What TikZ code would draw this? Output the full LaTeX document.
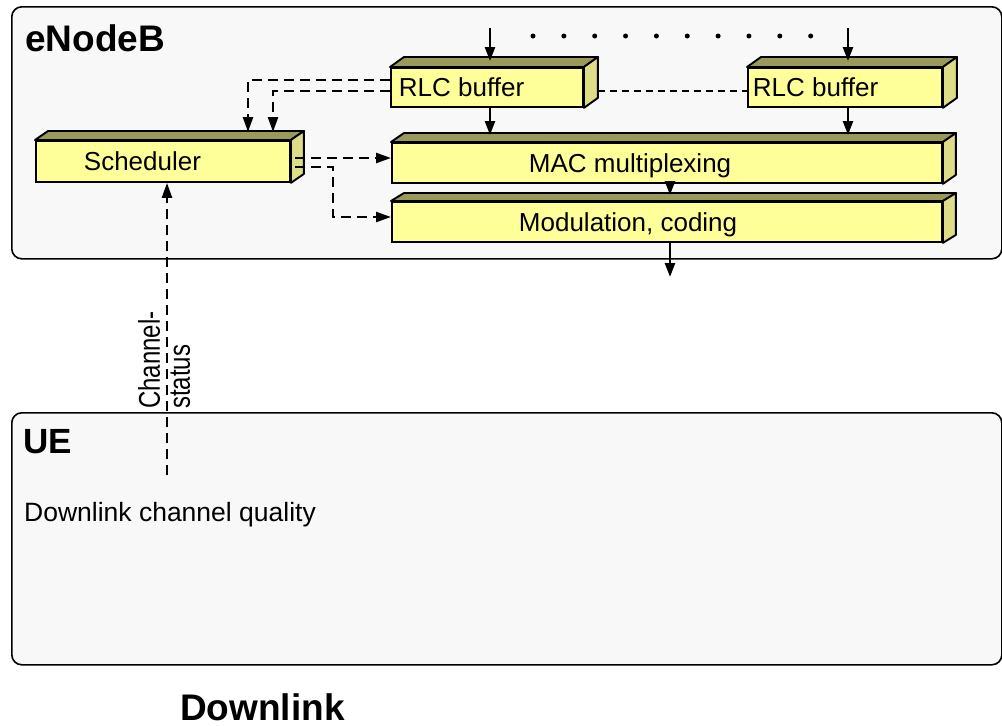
\documentclass[tikz,border=0pt]{standalone}
\usepackage{fontspec}
\setmainfont{Liberation Sans}
\usetikzlibrary{arrows.meta,calc}
\definecolor{frontc}{HTML}{FFFF99}
\definecolor{topc}{HTML}{99995A}
\definecolor{sidec}{HTML}{DDDD88}
\definecolor{panelc}{HTML}{F8F8F8}
\newcommand\normfont{\fontsize{26}{31}\selectfont}
\newcommand\dcqfont{\fontsize{26.5}{31}\selectfont}
\newcommand\boldbig{\fontsize{37}{42}\selectfont\bfseries}
\newcommand\boldue{\fontsize{35}{40}\selectfont\bfseries}
\newcommand\chfont{\fontsize{24}{30}\selectfont}
\tikzset{
 panelbox/.style={draw=black, line width=1.6pt, fill=panelc, rounded corners=10pt, anchor=north west, inner sep=0pt},
 facebox/.style={draw=black, line width=1.9pt, fill=frontc, inner sep=0pt, anchor=north west, text height=18.6pt, text depth=0pt, font=\normfont},
 topface/.style={draw=black, line width=1.9pt, fill=topc, line join=round},
 sideface/.style={draw=black, line width=1.9pt, fill=sidec, line join=round},
 arr/.style={line width=2.4pt, -{Triangle[length=14pt,width=10pt]}},
 darr/.style={line width=2.4pt, dash pattern=on 10pt off 6pt, -{Triangle[length=15pt,width=10pt]}},
 dline/.style={line width=1.5pt, dash pattern=on 7pt off 5pt},
 lbl/.style={anchor=base west, inner sep=0pt},
}
% name, x1, y1, w, h, text offset, text, dx, dy
\newcommand\cubebox[9]{%
 \node[facebox, minimum width=#4pt, minimum height=#5pt] (#1) at (#2,#3) {\makebox[#4pt][l]{\hspace{#6pt}#7}};
 \draw[topface] (#1.north west) -- ++(#8,-#9) -- ([shift={(#8,-#9)}]#1.north east) -- (#1.north east) -- cycle;
 \draw[sideface] (#1.north east) -- ++(#8,-#9) -- ([shift={(#8,-#9)}]#1.south east) -- (#1.south east) -- cycle;
}
\begin{document}
\begin{tikzpicture}[x=1pt,y=-1pt]
\fill[white] (0,0) rectangle (1002,726);
\useasboundingbox (0,0) rectangle (1002,726);
% panels
\node[panelbox, minimum width=990pt, minimum height=252pt] (enb) at (11,6) {};
\node[panelbox, minimum width=990pt, minimum height=252pt] (ue) at (11,412) {};
\node[lbl, font=\boldbig] (enbl) at (25,51) {eNodeB};
\node[lbl, font=\boldue] (uel) at (23,453) {UE};
\node[lbl, font=\boldbig] (dl) at (180,720) {Downlink};
\node[lbl, font=\dcqfont] (dcq) at (24,521) {Downlink channel quality};
% boxes
\cubebox{sched}{35}{140}{254}{41}{48}{Scheduler}{13}{9}
\cubebox{rlca}{390}{67}{192}{39}{8}{RLC buffer}{14}{10}
\cubebox{rlcb}{747}{67}{194}{39}{5}{RLC buffer}{14}{10}
\cubebox{mac}{391}{142}{550}{40}{137}{MAC multiplexing}{13}{9}
\cubebox{mod}{391}{201}{550}{40}{127}{Modulation, coding}{13}{8}
% solid arrows
\coordinate (ina) at (490,28);
\coordinate (inb) at (848,28);
\draw[arr] (ina) -- ($(ina |- rlca.north)+(0,-6)$);
\draw[arr] (inb) -- ($(inb |- rlcb.north)+(0,-6)$);
\draw[arr] (rlca.south -| ina) -- ($(mac.north -| ina)+(0,-7)$);
\draw[arr] (rlcb.south -| inb) -- ($(mac.north -| inb)+(0,-7)$);
\coordinate (out) at (670,277);
\draw[arr] (mac.south -| out) -- ($(mod.north -| out)+(0,-6)$);
\draw[arr] (mod.south -| out) -- (out);
% dots
\coordinate (dota) at (533,36);
\coordinate (dotb) at (811,36);
\draw[line width=5pt, line cap=round, dash pattern=on 0pt off 30.85pt] (dota) -- (dotb);
% thin dashed between RLC buffers
\draw[dline] ($(rlca.east)+(14,3.5)$) -- ($(rlcb.west)+(0,3.5)$);
% dashed to scheduler
\coordinate (ka) at (248,80);
\coordinate (kb) at (273,91);
\draw[darr] (rlca.west |- ka) -- (ka) -- ($(ka |- sched.north)+(0,-8)$);
\draw[darr] (rlca.west |- kb) -- (kb) -- ($(kb |- sched.north)+(0,-8)$);
% scheduler outputs
\coordinate (sa) at (295,158);
\coordinate (sb) at (295,167);
\coordinate (sc) at (333,217);
\draw[darr] (sa) -- (mac.west |- sa);
\draw[darr] (sb) -- (sc |- sb) -- (sc) -- (mod.west |- sc);
% channel status
\coordinate (cs) at (167,475);
\draw[darr] (cs) -- (cs |- sched.south);
\node[rotate=90, anchor=north west, inner sep=0pt, align=left, font=\chfont] (cslab) at (138,409) {\scalebox{1}[1.25]{Channel-}\\\scalebox{1}[1.25]{status}};
\end{tikzpicture}
\end{document}
